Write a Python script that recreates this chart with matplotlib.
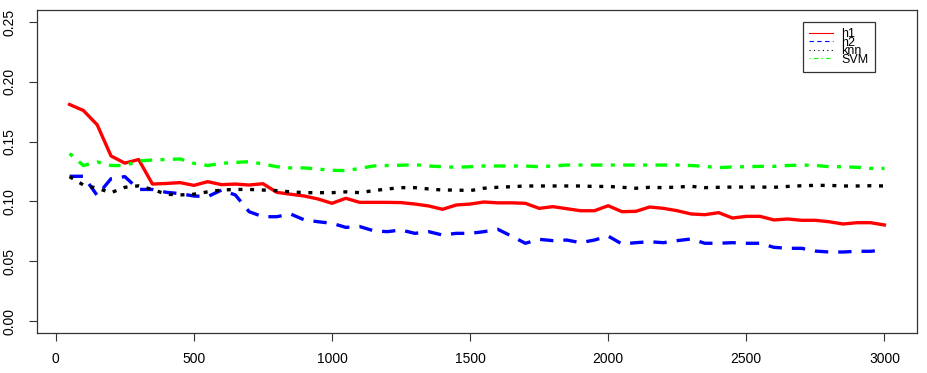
import matplotlib
matplotlib.use("Agg")
import matplotlib.pyplot as plt
from matplotlib.lines import Line2D

plt.rcParams['font.family'] = ['Liberation Sans', 'DejaVu Sans']

# sample sizes
n = list(range(50, 3001, 50))

h1 = [.181, .176, .164, .138, .132, .135, .1145, .115, .1157, .1134,
      .1165, .114, .1145, .1137, .1148, .1076, .106, .1045, .102, .0984,
      .1026, .0992, .0992, .0992, .099, .0978, .0962, .0934, .097, .0978,
      .0995, .0988, .0988, .0984, .0942, .0956, .0939, .0922, .0922, .0964,
      .0914, .0917, .0953, .0942, .0922, .0895, .0889, .0906, .0861, .0875,
      .0875, .0845, .0853, .0842, .0842, .083, .0811, .0822, .0822, .0803]

h2 = [.121, .121, .105, .119, .1207, .110, .110, .1076, .1065, .1045,
      .104, .1095, .1054, .0914, .0872, .0872, .0895, .0845, .083, .0817,
      .0783, .079, .0755, .0747, .0761, .0733, .0747, .0719, .0733, .0733,
      .0747, .0767, .071, .065, .0683, .0672, .0677, .0655, .0677, .071,
      .0644, .0655, .0663, .0655, .0672, .0686, .065, .065, .0655, .065,
      .065, .0616, .0608, .0608, .0585, .0577, .0577, .0583, .0583, .0594]

knn = [.1207, .1137, .111, .1073, .1118, .113, .110, .106, .1054, .106,
       .108, .1095, .110, .110, .1095, .109, .108, .1073, .1073, .1073,
       .108, .1073, .109, .1104, .1115, .1115, .1104, .1095, .1095, .109,
       .111, .1118, .1123, .1129, .1129, .1129, .1129, .1129, .1125, .1125,
       .1118, .111, .1118, .1115, .112, .1126, .1115, .1118, .112, .112,
       .112, .1118, .1125, .1131, .1134, .1134, .1129, .1129, .1131, .1129]

svm = [.140, .130, .133, .130, .130, .1338, .1346, .135, .1355, .1318,
       .130, .1318, .1326, .1332, .1313, .129, .128, .128, .127, .126,
       .1257, .1276, .1296, .130, .1302, .1307, .1296, .129, .1285, .129,
       .1296, .1296, .1296, .1296, .129, .1296, .1304, .1304, .1304, .1304,
       .1304, .1304, .1304, .1304, .1304, .130, .1293, .1282, .1288, .129,
       .1293, .1293, .130, .1304, .1301, .129, .129, .1285, .1276, .1276]

W, H = 927, 373
fig = plt.figure(figsize=(W/100, H/100), dpi=100)
ax = fig.add_axes([37/W, 1-333/H, (917-37)/W, (333-10)/H])

lw = 2.4
ax.plot(n, h1, color='#ff0000', lw=lw, solid_joinstyle='round')
ax.plot(n, h2, color='#0000ff', lw=lw, dashes=(4, 3), dash_capstyle='butt')
ax.plot(n, knn, color='black', lw=lw, dashes=(1.2, 2.3), dash_capstyle='butt')
ax.plot(n, svm, color='#00ff00', lw=lw, dashes=(1.2, 2.5, 3.5, 2.5), dash_capstyle='butt')

ax.set_xlim(-68, 3118)
ax.set_ylim(-0.01, 0.26)
ax.set_xticks(range(0, 3001, 500))
ax.set_yticks([0, 0.05, 0.10, 0.15, 0.20, 0.25])
ax.set_yticklabels(['0.00', '0.05', '0.10', '0.15', '0.20', '0.25'])
ax.tick_params(direction='out', length=6, width=0.8, labelsize=10, color='#333333')
ax.tick_params(axis='x', pad=8)
ax.tick_params(axis='y', pad=9)
plt.setp(ax.get_yticklabels(), rotation=90, va='center')
for s in ax.spines.values():
    s.set_linewidth(0.9)
    s.set_color('#333333')

# legend drawn with thin lines like the original (rows packed tightly)
handles = [
    Line2D([], [], color='#ff0000', lw=0.8),
    Line2D([], [], color='#0000ff', lw=0.8, dashes=(4, 3)),
    Line2D([], [], color='black', lw=0.8, dashes=(1, 3)),
    Line2D([], [], color='#00ff00', lw=0.8, dashes=(1, 3, 4, 3)),
]
leg = fig.legend(handles, ['h1', 'h2', 'knn', 'SVM'], loc='upper left',
                 bbox_to_anchor=(803/W, 1-22/H), bbox_transform=fig.transFigure,
                 borderaxespad=0, fontsize=9, labelspacing=-0.28,
                 handlelength=1.9, handletextpad=0.65, borderpad=0.5,
                 fancybox=False, framealpha=1)
leg.get_frame().set_edgecolor('#333333')
leg.get_frame().set_linewidth(0.9)

fig.savefig('out.png', dpi=100)
